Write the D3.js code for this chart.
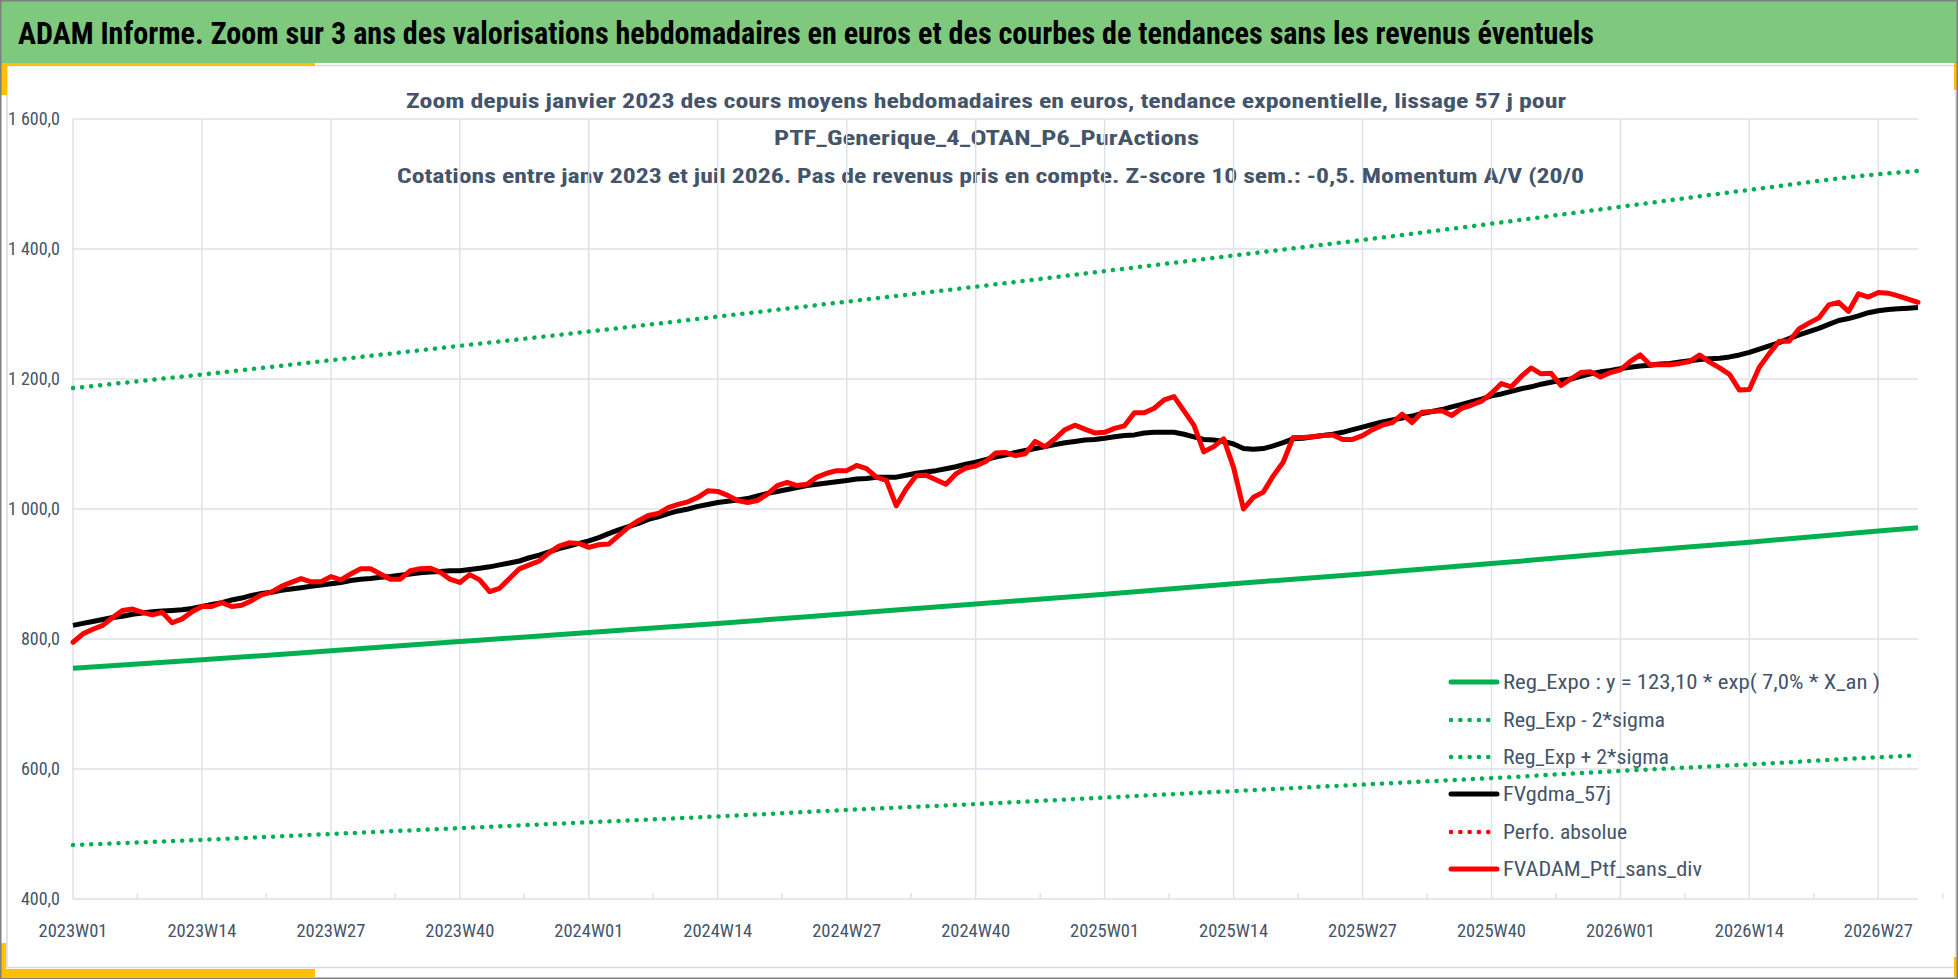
<!DOCTYPE html>
<html><head><meta charset="utf-8">
<script src="https://cdn.jsdelivr.net/npm/d3@7"></script>
<style>
html,body{margin:0;padding:0;background:#fff;}
svg{display:block;}
text{font-family:"Liberation Sans Narrow","Roboto Condensed","DejaVu Sans Condensed","Liberation Sans",sans-serif;}
</style></head>
<body>
<svg id="chart" width="1958" height="979"></svg>
<script>
// ---------- DATA ----------
const titleText = "ADAM Informe. Zoom sur 3 ans des valorisations hebdomadaires en euros et des courbes de tendances sans les revenus éventuels";
const subtitleLines = [
  "Zoom depuis janvier 2023 des cours moyens hebdomadaires  en euros, tendance exponentielle, lissage 57 j pour",
  "PTF_Generique_4_OTAN_P6_PurActions",
  "Cotations  entre janv 2023 et juil 2026. Pas de revenus pris en compte. Z-score 10 sem.: -0,5. Momentum A/V (20/0"
];
const tickLabels = ["2023W01","2023W14","2023W27","2023W40","2024W01","2024W14","2024W27","2024W40","2025W01","2025W14","2025W27","2025W40","2026W01","2026W14","2026W27"];
const tickIndex  = [0,13,26,39,52,65,78,91,104,117,130,143,156,169,182];
const yTicks = [400,600,800,1000,1200,1400,1600];
const lastIndex = 186;

// trend curves, read at every labelled week + last week
const trendIndex = [0,13,26,39,52,65,78,91,104,117,130,143,156,169,182,186];
const regExpo   = [755,768,782,796,810,824,839,854,869,885,900,916,933,949,966,971];
const regUpper  = [1186,1207,1229,1251,1273,1296,1319,1342,1366,1390,1414,1439,1465,1491,1515,1520];
const regLower  = [483,491,500,509,518,527,537,546,556,566,576,586,597,607,618,621];

// FVgdma_57j weekly (index 0..186)
const fvgdma = [821,824,827,830,833,835,838,840,842,843,844,845,847,850,853,856,860,863,867,870,
872,875,877,879,881,883,885,887,890,892,893,895,896,898,900,902,903,904,905,905,
907,909,911,914,917,920,925,929,934,939,943,947,951,956,962,968,973,978,984,988,
993,997,1000,1004,1007,1010,1012,1014,1016,1020,1024,1027,1030,1033,1036,1038,1040,1042,1044,1046,
1047,1049,1049,1049,1052,1055,1057,1059,1062,1065,1069,1072,1076,1080,1083,1087,1090,1093,1096,1099,
1102,1104,1106,1107,1109,1111,1113,1114,1117,1118,1118,1118,1115,1111,1107,1106,1104,1100,1093,1092,
1093,1097,1102,1108,1109,1111,1113,1115,1118,1122,1126,1130,1134,1137,1140,1143,1147,1150,1153,1157,
1161,1165,1169,1174,1177,1181,1185,1188,1192,1195,1198,1200,1204,1208,1211,1213,1216,1218,1220,1221,
1223,1224,1226,1228,1230,1231,1232,1234,1237,1241,1246,1251,1256,1262,1268,1273,1278,1284,1290,1293,
1297,1302,1305,1307,1308,1309,1310];

// FVADAM_Ptf_sans_div weekly (index 0..186)
const fvadam = [795,808,815,821,833,844,846,841,837,841,825,831,842,850,850,856,850,852,859,868,
872,881,887,893,888,888,896,891,900,908,908,900,892,892,905,908,909,903,892,887,
899,891,873,878,893,908,914,920,933,943,948,947,941,945,946,959,972,982,990,993,
1002,1007,1011,1018,1028,1027,1021,1013,1010,1013,1023,1036,1041,1036,1038,1049,1055,1059,1059,1067,
1062,1049,1044,1005,1031,1051,1052,1045,1038,1054,1063,1066,1073,1086,1087,1082,1085,1104,1096,1108,
1122,1129,1123,1117,1118,1124,1128,1148,1148,1155,1168,1173,1151,1129,1088,1096,1108,1064,1000,1018,
1026,1051,1072,1110,1110,1111,1113,1114,1107,1107,1113,1122,1129,1133,1146,1133,1149,1150,1151,1144,
1155,1160,1166,1178,1193,1188,1204,1217,1208,1209,1190,1200,1210,1211,1203,1210,1214,1227,1237,1222,
1222,1222,1224,1227,1237,1226,1217,1207,1183,1184,1218,1239,1258,1258,1277,1286,1294,1314,1318,1304,
1331,1326,1333,1332,1328,1323,1318];

const legendNames = ["Reg_Expo : y = 123,10 * exp( 7,0% *  X_an )","Reg_Exp - 2*sigma","Reg_Exp + 2*sigma","FVgdma_57j","Perfo. absolue","FVADAM_Ptf_sans_div"];

// ---------- STYLE ----------
const GREEN = "#00B050", RED = "#FF0000", BLACK = "#000000";
const TXT = "#44546A";
const legendStyles = [
  {c:GREEN, dotted:false, w:5},
  {c:GREEN, dotted:true,  w:4.5},
  {c:GREEN, dotted:true,  w:4.5},
  {c:BLACK, dotted:false, w:5},
  {c:RED,   dotted:true,  w:4.5},
  {c:RED,   dotted:false, w:5}
];
const legendWidths = [377,162,166,108,124,199];

const svg = d3.select("#chart");
const W = 1958, H = 979;

// frame / header
svg.append("rect").attr("x",0).attr("y",0).attr("width",W).attr("height",H).attr("fill","#fff");
svg.append("rect").attr("x",0).attr("y",0).attr("width",W).attr("height",63).attr("fill","#7FC97E");
// chart area border
svg.append("rect").attr("x",7).attr("y",65.5).attr("width",W-9).attr("height",902).attr("fill","none").attr("stroke","#D9D9D9").attr("stroke-width",1.5);
// yellow accents
svg.append("rect").attr("x",0).attr("y",63).attr("width",315).attr("height",3).attr("fill","#FFC000");
svg.append("rect").attr("x",1).attr("y",63).attr("width",6).attr("height",32).attr("fill","#FFC000");
svg.append("rect").attr("x",1).attr("y",943).attr("width",5).attr("height",34).attr("fill","#FFC000");
svg.append("rect").attr("x",0).attr("y",969).attr("width",315).attr("height",8).attr("fill","#FFC000");
svg.append("rect").attr("x",1954).attr("y",63).attr("width",3).attr("height",27).attr("fill","#FFC000");
svg.append("rect").attr("x",1954).attr("y",957).attr("width",3).attr("height",20).attr("fill","#FFC000");
// outer border
svg.append("rect").attr("x",0.75).attr("y",0.75).attr("width",W-1.5).attr("height",H-1.5).attr("fill","none").attr("stroke","#7F7F7F").attr("stroke-width",1.5);

// title
svg.append("text").attr("x",18).attr("y",44).attr("font-size",31).attr("font-weight","bold").attr("fill","#000")
  .attr("textLength",1576).attr("lengthAdjust","spacingAndGlyphs").text(titleText);

// subtitle
const subY = [108,145,183], subX = [406,774,397], subW = [1160,425,1187];
subtitleLines.forEach((t,i)=>{
  svg.append("text").attr("x",subX[i]).attr("y",subY[i]).attr("font-size",21).attr("font-weight","bold")
    .attr("fill",TXT).attr("textLength",subW[i]).attr("lengthAdjust","spacingAndGlyphs").text(t);
});

// scales
const x = d3.scaleLinear().domain([0,lastIndex]).range([73,1918]);
const y = d3.scaleLinear().domain([400,1600]).range([899,119]);

// gridlines
const g = svg.append("g");
g.selectAll("line.h").data(yTicks).join("line").attr("class","h")
  .attr("x1",x(0)).attr("x2",x(lastIndex)).attr("y1",d=>y(d)).attr("y2",d=>y(d))
  .attr("stroke","#DDE1E8").attr("stroke-width",1.5);
g.selectAll("line.v").data(tickIndex).join("line").attr("class","v")
  .attr("x1",d=>x(d)).attr("x2",d=>x(d)).attr("y1",y(1600)).attr("y2",y(400))
  .attr("stroke","#DDE1E8").attr("stroke-width",1.5);
// small minor ticks between labels
g.selectAll("line.m").data(tickIndex).join("line").attr("class","m")
  .attr("x1",d=>x(d+6.5)).attr("x2",d=>x(d+6.5)).attr("y1",y(400)-6).attr("y2",y(400))
  .attr("stroke","#DDE1E8").attr("stroke-width",1.5);

// y axis labels
const fmt = v => { const s = v.toFixed(1).replace(".",","); return v>=1000 ? s.replace(/^(\d)(\d{3})/,"$1 $2") : s; };
svg.selectAll("text.yl").data(yTicks).join("text").attr("class","yl")
  .attr("x",60).attr("y",d=>y(d)+6).attr("text-anchor","end").attr("font-size",18).attr("fill",TXT)
  .text(d=>fmt(d));

// x axis labels
svg.selectAll("text.xl").data(tickLabels).join("text").attr("class","xl")
  .attr("x",(d,i)=>x(tickIndex[i])).attr("y",937).attr("text-anchor","middle").attr("font-size",19).attr("fill",TXT)
  .attr("textLength",69).attr("lengthAdjust","spacingAndGlyphs")
  .text(d=>d);

// series
const plot = svg.append("g").attr("fill","none").attr("stroke-linejoin","round");
const trendLine = d3.line().x((d,i)=>x(trendIndex[i])).y(d=>y(d)).curve(d3.curveMonotoneX);
plot.append("path").attr("d",trendLine(regExpo)).attr("stroke",GREEN).attr("stroke-width",5);
plot.append("path").attr("d",trendLine(regLower)).attr("stroke",GREEN).attr("stroke-width",4.5)
  .attr("stroke-dasharray","0.1 9").attr("stroke-linecap","round");
plot.append("path").attr("d",trendLine(regUpper)).attr("stroke",GREEN).attr("stroke-width",4.5)
  .attr("stroke-dasharray","0.1 9").attr("stroke-linecap","round");
const weekly = d3.line().x((d,i)=>x(i)).y(d=>y(d));
plot.append("path").attr("d",weekly(fvgdma)).attr("stroke",BLACK).attr("stroke-width",5);
plot.append("path").attr("d",weekly(fvadam)).attr("stroke",RED).attr("stroke-width",5).attr("stroke-linecap","round");

// legend
const lg = svg.append("g");
const rowY = [682,720,757,794,832,869];
legendNames.forEach((n,i)=>{
  const st = legendStyles[i];
  const ln = lg.append("line").attr("x1",1451).attr("x2",1497).attr("y1",rowY[i]).attr("y2",rowY[i])
    .attr("stroke",st.c).attr("stroke-width",st.w).attr("stroke-linecap","round");
  if (st.dotted) ln.attr("stroke-dasharray","0.1 9.2");
  lg.append("text").attr("x",1503).attr("y",rowY[i]+7).attr("font-size",20).attr("fill",TXT)
    .attr("textLength",legendWidths[i]).attr("lengthAdjust","spacingAndGlyphs").text(n);
});
</script>
</body></html>
